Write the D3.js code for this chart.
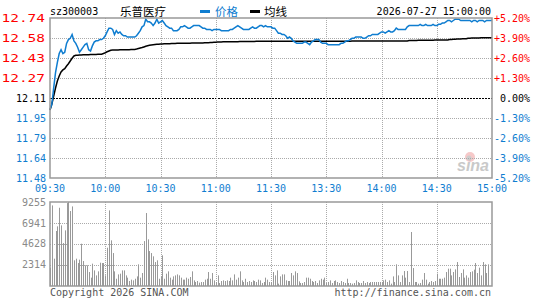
<!DOCTYPE html>
<html>
<head>
<meta charset="utf-8">
<script src="https://cdn.jsdelivr.net/npm/d3@7"></script>
<style>
  html, body { margin: 0; padding: 0; background: #fff; }
  svg { display: block; }
  text { font-family: "DejaVu Sans Mono", monospace; font-size: 10px; }
  .cjk { font-family: "Noto Sans CJK SC", sans-serif; font-size: 11.5px; }
</style>
</head>
<body>
<div id="chart"></div>
<script>
// Stock and date shown in the header
const stockCode = "sz300003";
const stockName = "乐普医疗";
const dateLabel = "2026-07-27 15:00:00";
const prevClose = 12.11;

// Axis labels
const timeLabels = ["09:30", "10:00", "10:30", "11:00", "11:30", "13:30", "14:00", "14:30", "15:00"];
const priceLabels = ["12.74", "12.58", "12.43", "12.27", "12.11", "11.95", "11.79", "11.64", "11.48"];
const pctLabels = ["+5.20%", "+3.90%", "+2.60%", "+1.30%", "0.00%", "-1.30%", "-2.60%", "-3.90%", "-5.20%"];
const volLabels = ["9255", "6941", "4628", "2314"];

// One value per trading minute (09:30 .. 11:30, 13:01 .. 15:00)
const prices = [
  12.02, 12.06, 12.19, 12.31, 12.39, 12.46, 12.49, 12.46, 12.47, 12.54,
  12.57, 12.58, 12.61, 12.56, 12.54, 12.51, 12.47, 12.49, 12.51, 12.53,
  12.54, 12.49, 12.48, 12.52, 12.55, 12.56, 12.56, 12.57, 12.57, 12.58,
  12.60, 12.63, 12.66, 12.66, 12.65, 12.61, 12.64, 12.62, 12.63, 12.61,
  12.60, 12.60, 12.59, 12.59, 12.59, 12.59, 12.59, 12.60, 12.62, 12.64,
  12.67, 12.68, 12.73, 12.71, 12.71, 12.70, 12.68, 12.70, 12.73, 12.70,
  12.71, 12.72, 12.70, 12.68, 12.67, 12.66, 12.66, 12.64, 12.64, 12.64,
  12.65, 12.67, 12.67, 12.68, 12.67, 12.66, 12.66, 12.67, 12.68, 12.68,
  12.68, 12.68, 12.67, 12.66, 12.66, 12.65, 12.65, 12.65, 12.64, 12.65,
  12.65, 12.65, 12.65, 12.64, 12.64, 12.64, 12.64, 12.64, 12.65, 12.65,
  12.66, 12.67, 12.68, 12.67, 12.66, 12.65, 12.65, 12.65, 12.65, 12.66,
  12.67, 12.66, 12.66, 12.67, 12.68, 12.68, 12.67, 12.68, 12.67, 12.67,
  12.67, 12.66, 12.66, 12.64, 12.62, 12.62, 12.61, 12.61, 12.60, 12.58,
  12.59, 12.58, 12.56, 12.55, 12.54, 12.54, 12.54, 12.54, 12.55, 12.55,
  12.54, 12.53, 12.55, 12.56, 12.57, 12.57, 12.57, 12.55, 12.54, 12.54,
  12.54, 12.53, 12.53, 12.53, 12.53, 12.53, 12.53, 12.53, 12.54, 12.54,
  12.55, 12.56, 12.56, 12.57, 12.58, 12.58, 12.59, 12.59, 12.59, 12.59,
  12.58, 12.58, 12.59, 12.60, 12.60, 12.61, 12.61, 12.61, 12.61, 12.62,
  12.63, 12.63, 12.62, 12.63, 12.64, 12.63, 12.63, 12.64, 12.66, 12.65,
  12.65, 12.65, 12.65, 12.65, 12.67, 12.68, 12.68, 12.68, 12.68, 12.68,
  12.68, 12.69, 12.68, 12.68, 12.69, 12.68, 12.68, 12.68, 12.69, 12.68,
  12.68, 12.69, 12.69, 12.70, 12.70, 12.71, 12.72, 12.72, 12.71, 12.72,
  12.73, 12.73, 12.73, 12.72, 12.72, 12.72, 12.72, 12.72, 12.72, 12.71,
  12.72, 12.72, 12.71, 12.72, 12.72, 12.72, 12.71, 12.72, 12.72, 12.72,
  12.72
];

const avgPrices = [
  12.016, 12.063, 12.126, 12.189, 12.244, 12.283, 12.315, 12.331, 12.341, 12.362,
  12.380, 12.401, 12.423, 12.441, 12.446, 12.447, 12.448, 12.449, 12.450, 12.450,
  12.451, 12.451, 12.452, 12.452, 12.453, 12.453, 12.454, 12.454, 12.455, 12.460,
  12.466, 12.474, 12.480, 12.486, 12.487, 12.487, 12.488, 12.488, 12.489, 12.489,
  12.489, 12.490, 12.490, 12.490, 12.491, 12.491, 12.492, 12.495, 12.499, 12.503,
  12.507, 12.512, 12.517, 12.521, 12.525, 12.527, 12.529, 12.531, 12.533, 12.534,
  12.535, 12.536, 12.537, 12.538, 12.538, 12.538, 12.539, 12.539, 12.539, 12.540,
  12.540, 12.540, 12.540, 12.541, 12.541, 12.541, 12.541, 12.542, 12.542, 12.542,
  12.542, 12.543, 12.543, 12.543, 12.544, 12.544, 12.545, 12.546, 12.547, 12.548,
  12.549, 12.550, 12.551, 12.551, 12.552, 12.552, 12.552, 12.552, 12.553, 12.553,
  12.553, 12.553, 12.553, 12.554, 12.554, 12.554, 12.554, 12.555, 12.555, 12.555,
  12.555, 12.555, 12.556, 12.556, 12.556, 12.556, 12.556, 12.556, 12.557, 12.557,
  12.557, 12.557, 12.557, 12.557, 12.557, 12.557, 12.557, 12.557, 12.557, 12.557,
  12.557, 12.557, 12.557, 12.557, 12.557, 12.557, 12.557, 12.557, 12.557, 12.557,
  12.557, 12.557, 12.557, 12.557, 12.557, 12.557, 12.557, 12.557, 12.557, 12.557,
  12.557, 12.557, 12.557, 12.557, 12.557, 12.557, 12.557, 12.557, 12.557, 12.557,
  12.557, 12.557, 12.557, 12.557, 12.558, 12.558, 12.558, 12.558, 12.558, 12.558,
  12.558, 12.558, 12.558, 12.558, 12.558, 12.558, 12.558, 12.558, 12.558, 12.558,
  12.558, 12.558, 12.558, 12.559, 12.559, 12.559, 12.559, 12.559, 12.559, 12.559,
  12.559, 12.559, 12.559, 12.559, 12.559, 12.562, 12.562, 12.563, 12.563, 12.563,
  12.564, 12.564, 12.564, 12.564, 12.565, 12.565, 12.565, 12.565, 12.565, 12.566,
  12.566, 12.566, 12.566, 12.566, 12.566, 12.566, 12.566, 12.570, 12.571, 12.572,
  12.573, 12.574, 12.575, 12.575, 12.576, 12.576, 12.576, 12.580, 12.581, 12.582,
  12.582, 12.583, 12.583, 12.583, 12.584, 12.584, 12.584, 12.585, 12.585, 12.585,
  12.585
];

const volumes = [
  2020, 8880, 3010, 6060, 6570, 8620, 6680, 4730, 6130, 9140,
  9255, 8260, 8770, 2830, 3010, 2530, 2900, 4660, 2750, 2280,
  2280, 1540, 920, 2460, 1720, 1170, 1615, 2570, 2530, 2530,
  1170, 4220, 8330, 5030, 3630, 1615, 800, 1280, 1360, 1720,
  1720, 1170, 920, 550, 700, 620, 800, 1060, 2390, 920,
  1430, 4950, 8040, 5140, 3850, 3630, 3270, 2640, 2830, 800,
  1060, 3380, 800, 1360, 1615, 920, 700, 1060, 1170, 1280,
  1170, 920, 700, 700, 920, 800, 990, 1615, 620, 440,
  550, 370, 440, 440, 700, 800, 1540, 800, 1430, 620,
  440, 1170, 330, 550, 620, 550, 620, 550, 920, 620,
  1280, 700, 920, 1615, 620, 440, 800, 440, 550, 440,
  620, 550, 440, 700, 620, 330, 440, 920, 700, 440,
  440, 1540, 1170, 1720, 260, 1060, 1280, 1280, 620, 550,
  550, 1430, 1170, 1615, 1430, 510, 330, 330, 440, 920,
  920, 800, 550, 440, 550, 330, 620, 800, 700, 920,
  330, 440, 620, 330, 550, 620, 440, 330, 550, 440,
  330, 800, 330, 330, 260, 330, 620, 440, 330, 330,
  550, 330, 440, 330, 440, 440, 440, 440, 440, 440,
  440, 620, 700, 440, 620, 260, 1060, 440, 2390, 1170,
  440, 1170, 1650, 920, 1650, 440, 5950, 1980, 440, 440,
  260, 330, 700, 1430, 700, 260, 440, 550, 440, 550,
  1360, 800, 800, 800, 920, 1540, 1910, 1910, 1170, 1540,
  1835, 2640, 990, 1430, 1835, 920, 1170, 920, 1540, 1615,
  1800, 2530, 1430, 2020, 1170, 2640, 2390, 1430, 2390, 0,
  0
];

const width = 545, height = 300;
const left = 50, right = 492;
const priceTop = 18, priceBottom = 178;
const volTop = 202, volBottom = 286;

const blue = "#0f7dd0", red = "#ff0000", gridColor = "#aaaaaa", frameColor = "#999999";

const svg = d3.select("#chart").append("svg")
  .attr("width", width)
  .attr("height", height);

// Scales
const x = d3.scaleLinear().domain([0, prices.length - 1]).range([left, right]);
const y = d3.scaleLinear().domain([prevClose * 0.948, prevClose * 1.052]).range([priceBottom, priceTop]);
const yv = d3.scaleLinear().domain([0, +volLabels[0]]).range([volBottom, volTop]);

const tickMinutes = timeLabels.map((d, i) => i * 30);
const levels = priceLabels.map((d, i) => prevClose * (1.052 - i * 0.013));

// Header
svg.append("text").attr("x", 50).attr("y", 15).attr("fill", "#000").text(stockCode);
svg.append("text").attr("class", "cjk").attr("x", 120).attr("y", 15.5).attr("fill", "#000").text(stockName);
svg.append("rect").attr("x", 200).attr("y", 10).attr("width", 10).attr("height", 3).attr("fill", blue);
svg.append("text").attr("class", "cjk").attr("x", 215).attr("y", 15.5).attr("fill", blue).text("价格");
svg.append("rect").attr("x", 250).attr("y", 10).attr("width", 10).attr("height", 3).attr("fill", "#000");
svg.append("text").attr("class", "cjk").attr("x", 264).attr("y", 15.5).attr("fill", "#000").text("均线");
svg.append("text").attr("x", 491).attr("y", 15).attr("text-anchor", "end").attr("fill", "#000").text(dateLabel);

// Sina watermark
const wm = svg.append("g").attr("opacity", 0.9);
wm.append("circle").attr("cx", 470).attr("cy", 157).attr("r", 5).attr("fill", "#f6c4c4");
wm.append("circle").attr("cx", 469).attr("cy", 158).attr("r", 2.5).attr("fill", "#c8c8c8");
wm.append("text").attr("x", 457).attr("y", 171)
  .style("font-family", "Liberation Sans, sans-serif").style("font-size", "16px")
  .style("font-style", "italic").style("font-weight", "bold")
  .attr("fill", "#c4c4c4").text("sina");

// Price grid
const grid = svg.append("g");
levels.forEach((lv, i) => {
  if (i === 0 || i === levels.length - 1) return;
  const yy = Math.round(y(lv)) + 0.5;
  grid.append("line")
    .attr("x1", left).attr("x2", right).attr("y1", yy).attr("y2", yy)
    .attr("stroke", i === 4 ? "#000" : gridColor)
    .attr("stroke-dasharray", i === 4 ? "2,1" : "1,1");
});
tickMinutes.forEach((m, i) => {
  if (i === 0 || i === tickMinutes.length - 1) return;
  const xx = Math.round(x(m)) + 0.5;
  grid.append("line").attr("x1", xx).attr("x2", xx).attr("y1", priceTop).attr("y2", priceBottom)
    .attr("stroke", gridColor).attr("stroke-dasharray", "1,1");
  grid.append("line").attr("x1", xx).attr("x2", xx).attr("y1", volTop).attr("y2", volBottom)
    .attr("stroke", gridColor).attr("stroke-dasharray", "1,1");
});
volLabels.forEach((v, i) => {
  if (i === 0) return;
  const yy = Math.round(yv(+v)) + 0.5;
  grid.append("line").attr("x1", left).attr("x2", right).attr("y1", yy).attr("y2", yy)
    .attr("stroke", gridColor).attr("stroke-dasharray", "1,1");
});

// Left price labels and right percent labels
levels.forEach((lv, i) => {
  const col = i < 4 ? red : (i === 4 ? "#000" : blue);
  const t = svg.append("text")
    .attr("y", y(lv) + 3.5)
    .attr("fill", col)
    .text(priceLabels[i]);
  if (i < 4) {
    t.attr("x", 1.5).attr("textLength", 43.5).attr("lengthAdjust", "spacingAndGlyphs");
  } else {
    t.attr("x", 46).attr("text-anchor", "end");
  }
  svg.append("text")
    .attr("x", 530).attr("y", y(lv) + 3.5)
    .attr("text-anchor", "end")
    .attr("fill", col)
    .text(pctLabels[i]);
});

// Time labels
tickMinutes.forEach((m, i) => {
  svg.append("text").attr("x", x(m)).attr("y", 191.5)
    .attr("text-anchor", "middle").attr("fill", blue).text(timeLabels[i]);
});

// Volume labels
volLabels.forEach(v => {
  svg.append("text").attr("x", 46).attr("y", yv(+v) + 3.5)
    .attr("text-anchor", "end").attr("fill", "#8a8a8a").text(v);
});

// Volume bars
svg.append("g").selectAll("rect").data(volumes).join("rect")
  .attr("x", (d, i) => Math.round(x(i)))
  .attr("y", d => yv(d))
  .attr("width", 1)
  .attr("height", d => volBottom - yv(d))
  .attr("fill", "#999999");

// Price and average lines
const line = d3.line().x((d, i) => x(i)).y(d => y(d));
svg.append("path").datum(avgPrices).attr("d", line)
  .attr("fill", "none").attr("stroke", "#000").attr("stroke-width", 1.5);
svg.append("path").datum(prices).attr("d", line)
  .attr("fill", "none").attr("stroke", blue).attr("stroke-width", 1.5);

// Frames
[[priceTop, priceBottom], [volTop, volBottom]].forEach(([t, b]) => {
  svg.append("rect").attr("x", left).attr("y", t)
    .attr("width", right - left).attr("height", b - t)
    .attr("fill", "none").attr("stroke", frameColor).attr("stroke-width", 1.5);
});

// Footer
svg.append("text").attr("x", 50).attr("y", 296).attr("fill", "#555").text("Copyright 2026 SINA.COM");
svg.append("text").attr("x", 491).attr("y", 296).attr("text-anchor", "end").attr("fill", "#555").text("http://finance.sina.com.cn");
</script>
</body>
</html>
